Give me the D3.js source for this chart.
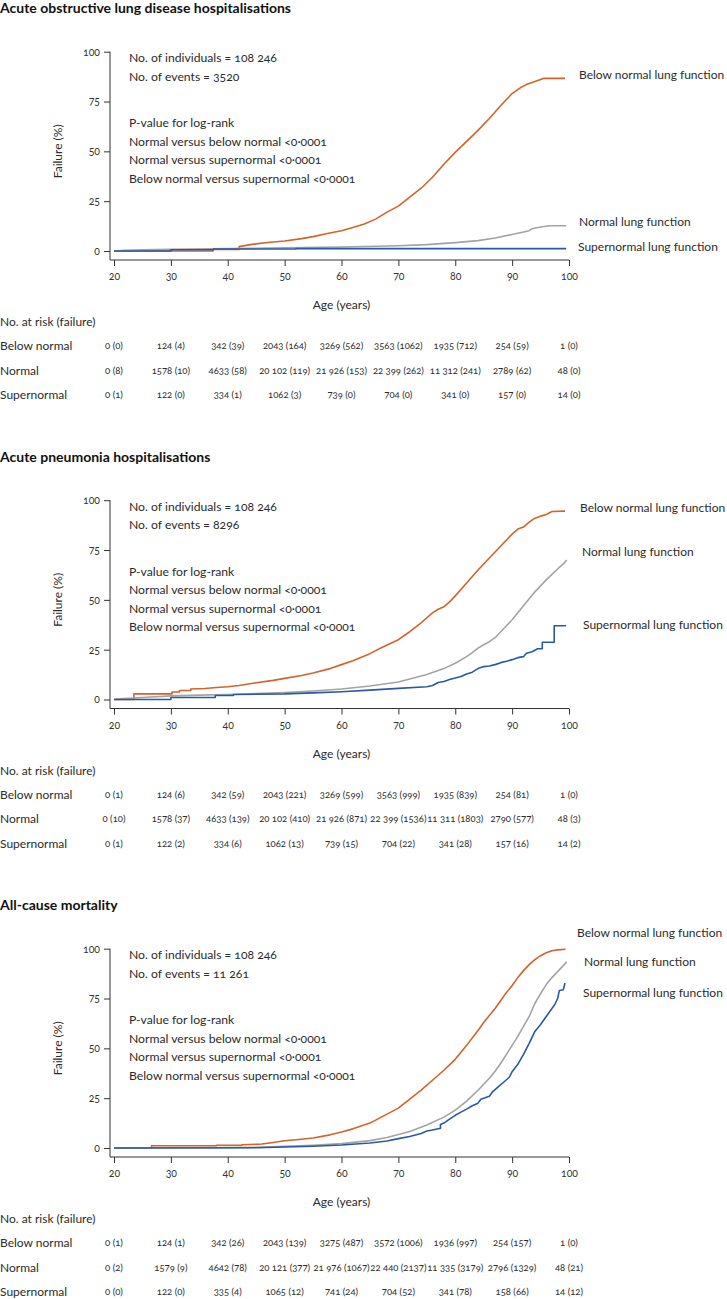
<!DOCTYPE html>
<html>
<head>
<meta charset="utf-8">
<script src="https://cdn.jsdelivr.net/npm/d3@7"></script>
<style>
  body { margin: 0; background: #fff; }
  svg text { font-family: Lato, "Open Sans", sans-serif; font-variant-numeric: oldstyle-nums; fill: #2b2b2b; }
</style>
</head>
<body>
<div id="chart"></div>
<script>
// panel titles and header numbers
const titles = ["Acute obstructive lung disease hospitalisations", "Acute pneumonia hospitalisations", "All-cause mortality"];
const individuals = "108 246";
const events = ["3520", "8296", "11 261"];
const pLines = ["P-value for log-rank", "Normal versus below normal <0·0001", "Normal versus supernormal <0·0001", "Below normal versus supernormal <0·0001"];

const ageTicks = [20, 30, 40, 50, 60, 70, 80, 90, 100];
const failTicks = [0, 25, 50, 75, 100];
const groups = ["Below normal", "Normal", "Supernormal"];
const seriesNames = ["Below normal lung function", "Normal lung function", "Supernormal lung function"];

// cumulative failure (%) by age
const copdBelow = [[20,0],[37.4,0],[37.4,0.8],[42,0.8],[42,2.2],[44,3.2],[47,4.3],[50,5.0],[53,6.2],[55,7.2],[57.5,8.8],[60,10.2],[62,11.8],[64,13.5],[66,16],[68,19.5],[70,22.5],[72,27],[74,31.5],[76,37],[78,43.5],[80,49.5],[82,55],[84,60.5],[86,66.5],[88,73],[90,79],[91.5,82],[92.5,83.5],[93.5,84.5],[94.5,85.5],[95.5,86.6],[99.3,86.6]];
const copdNormal = [[20.5,0],[21.7,0.3],[25,0.6],[30,0.9],[40,1.2],[50,1.6],[60,2.0],[70,2.6],[75,3.2],[80,4.2],[84,5.2],[87,6.5],[90,8.3],[92,9.5],[93,10.2],[93.5,11.2],[95,12],[96.5,12.7],[99.5,12.7]];
const copdSuper = [[20,0],[30,0],[30,0.6],[37.5,0.6],[37.5,1.0],[52,1.0],[52,1.2],[99.5,1.2]];

const pneuBelow = [[20,0],[23.5,0],[23.5,2.8],[30.2,2.8],[30.2,3.8],[31.5,3.8],[31.5,4.5],[33.5,4.5],[33.5,5.3],[36,5.5],[38,6],[40,6.4],[42,7],[45,8.4],[48,9.6],[50,10.6],[53,12],[55,13.3],[58,15.5],[60,17.5],[62,19.5],[65,23],[67,26],[70,30],[72,34],[74,38.5],[76,43.5],[77,45.3],[78,46.5],[79,49],[80,52],[82,58.5],[84,65],[86,71],[88,77],[90,83],[91,85.5],[92,86.5],[93,89],[94,91],[95,92],[96,92.8],[97,94.3],[99.3,94.5]];
const pneuNormal = [[20,0],[21,0.3],[25,1],[30,1.8],[35,2.2],[40,2.5],[45,3],[50,3.5],[55,4.3],[60,5.3],[65,6.8],[70,8.8],[75,12.5],[78,15.5],[80,18.2],[82,21.5],[83,23.5],[84,25.8],[85,27.5],[86,29],[87,31],[88,34],[89,37],[90,40],[91,43.5],[92,47],[93,50.5],[94,54],[95,57],[96,60],[97,62.8],[98,65.5],[99,68],[99.6,70]];
const pneuSuper = [[20,0],[30,0],[30,1],[37.8,1],[37.8,2],[41,2],[41,2.5],[50,2.8],[55,3.3],[60,3.9],[65,4.7],[70,5.6],[75,6.4],[76,7],[77,8.5],[78,9],[79,10],[80,10.8],[81,11.5],[82,12.8],[83,13.7],[84,15.5],[85,16.5],[86,16.8],[87,17.5],[88,18.5],[89,19.2],[90,20],[91,21],[92,21.5],[92.5,23.2],[93.5,24],[94.5,25.5],[95.3,25.5],[95.3,28.7],[97.4,28.7],[97.4,37],[99.5,37]];

const mortBelow = [[20,0],[26.6,0],[26.6,1.1],[38,1.1],[38,1.4],[42.5,1.4],[42.5,1.6],[46,2],[48,2.8],[50,3.6],[52.5,4.3],[55,5],[58,6.6],[60,8],[62,9.6],[65,12.5],[67,15.5],[70,20],[72,24.5],[74,29],[76,34],[78,39],[80,44.5],[82,51.5],[84,59],[85,63],[86,66.5],[87,70],[88,74],[89,78],[90,81.5],[91,85.5],[92,89],[93,92],[94,94.5],[95,96.5],[96,98],[97,99],[98,99.4],[99.4,99.7]];
const mortNormal = [[20,0],[40,0.2],[45,0.4],[50,0.8],[55,1.4],[60,2.2],[65,3.7],[68,5.3],[70,6.8],[72,8.3],[75,11.5],[78,15.5],[80,19],[82,23.5],[84,29],[86,35],[87,38.5],[88,42.5],[89,47],[90,51.5],[91,56],[92,61],[93,66],[94,72.5],[95,77.5],[96,82],[97,85.5],[98,88.5],[99,91.5],[99.6,93.5]];
const mortSuper = [[20,0],[45,0.1],[50,0.5],[55,0.9],[60,1.5],[65,2.5],[68,3.5],[70,4.7],[72,5.8],[74,7.3],[75,8.5],[76,9],[77.4,9.9],[77.4,11.8],[78,12.5],[79,14.5],[80,16.4],[81,18],[82,19.5],[83,21.2],[84,22.5],[84.5,24.5],[85.5,25.5],[86,26],[86.5,28],[87.5,30.5],[88.5,33],[89.5,35.5],[90,38.3],[91,42],[92,47],[93,52.5],[94,58.5],[95,62],[96,66],[97,70],[97.5,72],[98,75],[98.3,79],[99,79.4],[99.3,82.8]];

// no. at risk (failure) tables
const copdRisk = [
    ["0 (0)", "124 (4)", "342 (39)", "2043 (164)", "3269 (562)", "3563 (1062)", "1935 (712)", "254 (59)", "1 (0)"],
    ["0 (8)", "1578 (10)", "4633 (58)", "20 102 (119)", "21 926 (153)", "22 399 (262)", "11 312 (241)", "2789 (62)", "48 (0)"],
    ["0 (1)", "122 (0)", "334 (1)", "1062 (3)", "739 (0)", "704 (0)", "341 (0)", "157 (0)", "14 (0)"]
];
const pneuRisk = [
    ["0 (1)", "124 (6)", "342 (59)", "2043 (221)", "3269 (599)", "3563 (999)", "1935 (839)", "254 (81)", "1 (0)"],
    ["0 (10)", "1578 (37)", "4633 (139)", "20 102 (410)", "21 926 (871)", "22 399 (1536)", "11 311 (1803)", "2790 (577)", "48 (3)"],
    ["0 (1)", "122 (2)", "334 (6)", "1062 (13)", "739 (15)", "704 (22)", "341 (28)", "157 (16)", "14 (2)"]
];
const mortRisk = [
    ["0 (1)", "124 (1)", "342 (26)", "2043 (139)", "3275 (487)", "3572 (1006)", "1936 (997)", "254 (157)", "1 (0)"],
    ["0 (2)", "1579 (9)", "4642 (78)", "20 121 (377)", "21 976 (1067)", "22 440 (2137)", "11 335 (3179)", "2796 (1329)", "48 (21)"],
    ["0 (0)", "122 (0)", "335 (4)", "1065 (12)", "741 (24)", "704 (52)", "341 (78)", "158 (66)", "14 (12)"]
];

const panels = [
    { title: titles[0], events: events[0], curves: [copdBelow, copdNormal, copdSuper], risk: copdRisk },
    { title: titles[1], events: events[1], curves: [pneuBelow, pneuNormal, pneuSuper], risk: pneuRisk },
    { title: titles[2], events: events[2], curves: [mortBelow, mortNormal, mortSuper], risk: mortRisk }
];

// layout
const colors = ["#d4622a", "#a3a3a3", "#2a58a6"];
const panelH = 448.5;
const axisX = 110, axisY = 260;
// y centre (px, from panel top) and x of the end-of-curve labels
const endLabelY = [[75, 222, 247], [59, 103.5, 176], [36, 65, 96]];
const endLabelX = [[579, 579, 578], [580, 582, 583], [577, 584, 583]];

const svg = d3.select("#chart")
    .append("svg")
    .attr("width", 727)
    .attr("height", 1299);

const x = d3.scaleLinear().domain([20, 100]).range([114, 569]);
const y = d3.scaleLinear().domain([0, 100]).range([251, 51.7]);

const line = d3.line()
    .x(d => x(d[0]))
    .y(d => y(d[1]));

panels.forEach((p, i) => {
    const g = svg.append("g").attr("transform", `translate(0,${i * panelH})`);

    g.append("text")
        .attr("x", 0)
        .attr("y", 13)
        .attr("font-size", 14)
        .attr("font-weight", 700)
        .style("fill", "#111")
        .text(p.title);

    // axes
    const yAxis = g.append("g")
        .attr("transform", `translate(${axisX},0)`)
        .call(d3.axisLeft(y).tickValues(failTicks).tickSize(6).tickPadding(4));
    yAxis.select(".domain").remove();

    const xAxis = g.append("g")
        .attr("transform", `translate(0,${axisY})`)
        .call(d3.axisBottom(x).tickValues(ageTicks).tickSize(6).tickPadding(7));
    xAxis.select(".domain").remove();

    [yAxis, xAxis].forEach(a => {
        a.attr("font-family", null).attr("font-size", 10.5);
        a.selectAll("line").attr("stroke", "#333");
        a.selectAll("text").style("fill", "#333");
    });

    g.append("line")
        .attr("x1", axisX).attr("x2", axisX)
        .attr("y1", y(100)).attr("y2", axisY)
        .attr("stroke", "#333");
    g.append("line")
        .attr("x1", axisX).attr("x2", x(100))
        .attr("y1", axisY).attr("y2", axisY)
        .attr("stroke", "#333");

    g.append("text")
        .attr("transform", `translate(58,${y(50)}) rotate(-90)`)
        .attr("text-anchor", "middle")
        .attr("dy", "0.35em")
        .attr("font-size", 12)
        .text("Failure (%)");

    g.append("text")
        .attr("x", (x(20) + x(100)) / 2)
        .attr("y", 305)
        .attr("dy", "0.35em")
        .attr("text-anchor", "middle")
        .attr("font-size", 12)
        .text("Age (years)");

    // header text
    const notes = [
        ["No. of individuals = " + individuals, 58],
        ["No. of events = " + p.events, 76.5],
        [pLines[0], 123],
        [pLines[1], 141.5],
        [pLines[2], 160],
        [pLines[3], 178.5]
    ];
    g.selectAll(".note")
        .data(notes)
        .join("text")
        .attr("x", 129)
        .attr("y", d => d[1])
        .attr("dy", "0.35em")
        .attr("font-size", 12.2)
        .text(d => d[0]);

    // curves
    p.curves.forEach((c, k) => {
        g.append("path")
            .datum(c)
            .attr("fill", "none")
            .attr("stroke", colors[k])
            .attr("stroke-width", 1.6)
            .attr("stroke-linejoin", "round")
            .attr("d", line);

        g.append("text")
            .attr("x", endLabelX[i][k])
            .attr("y", endLabelY[i][k])
            .attr("dy", "0.35em")
            .attr("font-size", 12)
            .text(seriesNames[k]);
    });

    // number at risk table
    g.append("text")
        .attr("x", 0)
        .attr("y", 322)
        .attr("dy", "0.35em")
        .attr("font-size", 12)
        .text("No. at risk (failure)");

    p.risk.forEach((row, r) => {
        const ry = 346 + r * 24.5;
        g.append("text")
            .attr("x", 0)
            .attr("y", ry)
            .attr("dy", "0.35em")
            .attr("font-size", 12)
            .text(groups[r]);
        g.selectAll(".risk" + r)
            .data(row)
            .join("text")
            .attr("x", (d, j) => x(ageTicks[j]))
            .attr("y", ry)
            .attr("dy", "0.35em")
            .attr("text-anchor", "middle")
            .attr("font-size", 9.5)
            .text(d => d);
    });
});
</script>
</body>
</html>
